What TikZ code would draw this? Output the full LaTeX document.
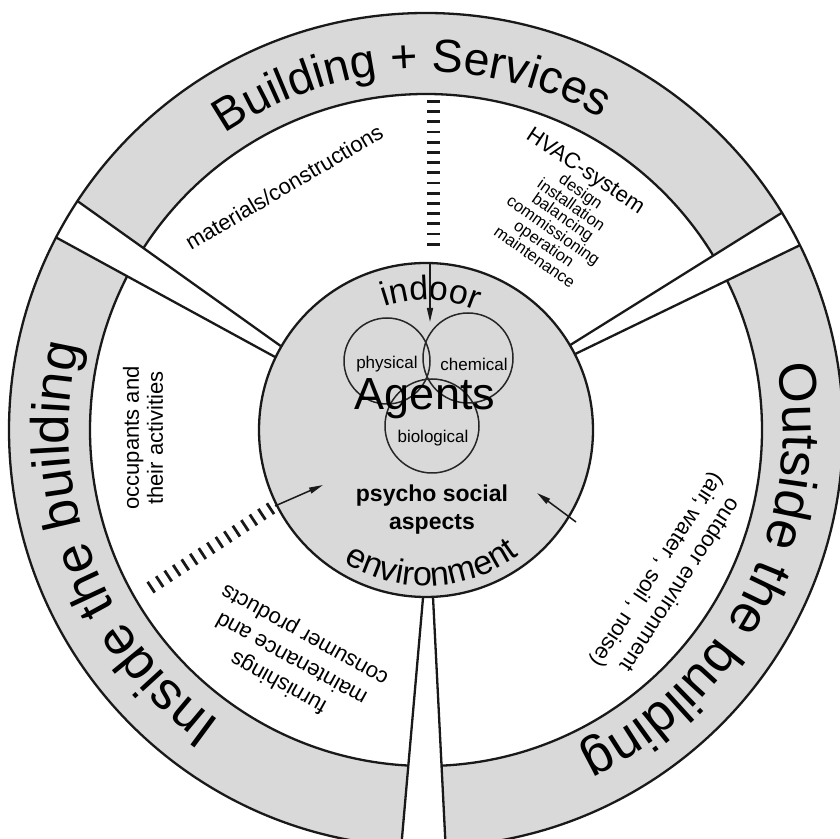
\documentclass[tikz,border=0pt]{standalone}
\usepackage{fontspec}
\setmainfont{Liberation Sans}
\usetikzlibrary{calc,decorations.text,arrows.meta}

\newcommand\toplabelfont{\fontsize{46.5}{56}\selectfont}
\newcommand\sidelabelfont{\fontsize{53}{62}\selectfont}
\newcommand\centrearcfont{\fontsize{34}{40}\selectfont}

\begin{document}
\begin{tikzpicture}[x=1pt,y=1pt,
  outline/.style={line width=2.3pt, draw=black!90},
  ringfill/.style={fill=black!15},
  venn/.style={line width=1.5pt, draw=black!85},
  hatch/.style={line width=13pt, dash pattern=on 2.8pt off 7.4pt, draw=black!90},
  pointer/.style={line width=1.5pt, draw=black!90, -{Triangle[length=14pt,width=6pt]}},
  sectorlabel/.style={font=\fontsize{22}{25}\selectfont, align=center, inner sep=0pt},
  smalllabel/.style={font=\fontsize{17}{17}\selectfont, inner sep=0pt},
  arclabel/.style={decorate, decoration={text along path, text align=center}}]

\useasboundingbox (0,0) rectangle (840,838);

\coordinate (C) at (426,408);
\def\Ro{417}
\def\Rr{336}
\def\Rc{167}

% grey outer ring and the white sectors inside it
\fill[ringfill] (C) circle (\Ro);
\fill[white] (C) circle (\Rr);
\draw[outline] (C) circle (\Rr);

% end points of the three white bands that split the ring
\coordinate (ulA1) at ($(C)+(150:\Rc)$);   \coordinate (ulA2) at ($(C)+(146.7:\Ro)$);
\coordinate (ulB1) at ($(C)+(154.2:\Rc)$); \coordinate (ulB2) at ($(C)+(152.5:\Ro)$);
\coordinate (rA1) at ($(C)+(30.5:\Rc)$);   \coordinate (rA2) at ($(C)+(31.4:\Ro)$);
\coordinate (rB1) at ($(C)+(27:\Rc)$);     \coordinate (rB2) at ($(C)+(26.3:\Ro)$);
\coordinate (bA1) at ($(C)+(-91:\Rc)$);    \coordinate (bA2) at ($(C)+(-93.4:\Ro)$);
\coordinate (bB1) at ($(C)+(-87.6:\Rc)$);  \coordinate (bB2) at ($(C)+(-87.3:\Ro)$);

\fill[white] (ulA1) -- (ulA2) -- (ulB2) -- (ulB1) -- cycle;
\fill[white] (rA1) -- (rA2) -- (rB2) -- (rB1) -- cycle;
\fill[white] (bA1) -- (bA2) -- (bB2) -- (bB1) -- cycle;

\draw[outline] (ulA1) -- (ulA2);
\draw[outline] (ulB1) -- (ulB2);
\draw[outline] (rA1) -- (rA2);
\draw[outline] (rB1) -- (rB2);
\draw[outline] (bA1) -- (bA2);
\draw[outline] (bB1) -- (bB2);

\draw[outline] (C) circle (\Ro);

% central circle
\fill[ringfill] (C) circle (\Rc);
\draw[outline] (C) circle (\Rc);

% labels of the outer ring
\path[arclabel, decoration={text={|\toplabelfont|Building + Services}}]
  ($(C)+(167.4:358)$) arc[start angle=167.4, end angle=17.4, radius=358];
\path[arclabel, decoration={text={|\sidelabelfont|Inside the building}}]
  ($(C)+(265.5:357)$) arc[start angle=265.5, end angle=135.5, radius=357];
\path[arclabel, decoration={text={|\sidelabelfont|Outside the building}}]
  ($(C)+(38:357)$) arc[start angle=38, end angle=-92, radius=357];

% labels of the sectors
\node[sectorlabel, rotate=30.5] (mat) at (284,651) {materials/constructions};
\node[sectorlabel, rotate=-33.5] (hvac) at (585,666) {HVAC-system};
\node[sectorlabel, rotate=-35, font=\fontsize{16.5}{15}\selectfont] (hvaclist) at (558,614)
  {design\\installation\\balancing\\commissioning\\operation\\maintenance};
\node[sectorlabel, rotate=90, font=\fontsize{22}{24}\selectfont] (occ) at (143,400)
  {occupants and\\their activities};
\node[sectorlabel, rotate=151, font=\fontsize{22}{27}\selectfont] (furn) at (292,180)
  {furnishings\\maintenance and\\consumer products};
\node[sectorlabel, rotate=-123, font=\fontsize{22}{27}\selectfont] (outdoor) at (668,261)
  {outdoor environment\\(air, water , soil , noise)};

% words around the central circle
\path[arclabel, decoration={text={|\centrearcfont|indoor}}]
  ($(C)+(148:130)$) arc[start angle=148, end angle=28, radius=130];
\path[arclabel, decoration={text={|\centrearcfont|environment}}]
  ($(C)+(205:156)$) arc[start angle=205, end angle=340, radius=156];

% agents
\draw[venn] (387,477) circle (43);
\draw[venn] (468,480) circle (45);
\draw[venn] (432,412) circle (47);
\node[smalllabel] (phys) at (387,474) {physical};
\node[smalllabel] (chem) at (474,474) {chemical};
\node[smalllabel] (bio) at (433,400) {biological};
\node[anchor=base, inner sep=0pt, font=\fontsize{45}{50}\selectfont] (agents) at (425,428) {Agents};
\node[sectorlabel, font=\bfseries\fontsize{23}{28}\selectfont] (psycho) at (432,328)
  {psycho social\\aspects};

% influences pointing into the centre
\coordinate (topHatchA) at (433,738);
\coordinate (topHatchB) at (433,586);
\coordinate (topArrowA) at (430,575);
\coordinate (topArrowB) at (430,516);
\draw[hatch] (topHatchA) -- (topHatchB);
\draw[pointer] (topArrowA) -- (topArrowB);

\coordinate (llHatchA) at (150,250);
\coordinate (llHatchB) at (273,331);
\coordinate (llArrowA) at (275,332);
\coordinate (llArrowB) at (323,353);
\draw[hatch] (llHatchA) -- (llHatchB);
\draw[pointer] (llArrowA) -- (llArrowB);

\coordinate (rArrowA) at (576,316);
\coordinate (rArrowB) at (537,345);
\draw[pointer] (rArrowA) -- (rArrowB);

\end{tikzpicture}
\end{document}
